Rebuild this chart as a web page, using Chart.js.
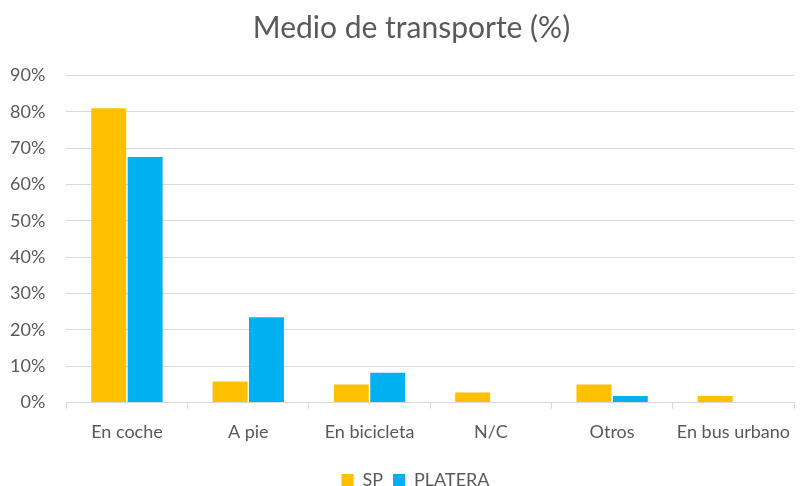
<!DOCTYPE html>
<html><head><meta charset="utf-8">
<script src="https://cdn.jsdelivr.net/npm/chart.js@4/dist/chart.umd.min.js"></script>
<style>html,body{margin:0;padding:0;background:#fff}#wrap{width:803px;height:486px}</style>
</head><body><div id="wrap"><canvas id="c" width="803" height="486"></canvas></div>
<script>
const categories = ["En coche", "A pie", "En bicicleta", "N/C", "Otros", "En bus urbano"];
const spValues = [81, 5.8, 5, 2.8, 5, 1.8];
const plateraValues = [67.6, 23.5, 8.2, 0, 1.8, 0];
const seriesNames = ["SP", "PLATERA"];
const yTicks = [0, 10, 20, 30, 40, 50, 60, 70, 80, 90];

const FONT = "Lato";
// small offsets so title and legend sit slightly right of canvas centre, as in the source
const shiftBlocks = {
  id: 'shiftBlocks',
  afterLayout(chart) {
    if (chart.titleBlock) { chart.titleBlock.left += 11; chart.titleBlock.right += 11; }
    if (chart.legend) { chart.legend.left += 15; chart.legend.right += 15; }
  }
};
new Chart(document.getElementById('c'), {
  type: 'bar',
  data: {
    labels: categories,
    datasets: [
      {label: seriesNames[0], data: spValues, backgroundColor: '#FFC000', borderWidth: 0},
      {label: seriesNames[1], data: plateraValues, backgroundColor: '#00B0F0', borderWidth: 0}
    ]
  },
  plugins: [shiftBlocks],
  options: {
    responsive: false,
    animation: false,
    devicePixelRatio: 1,
    layout: {padding: {left: -11, right: -9, top: 0, bottom: -13}},
    datasets: {bar: {categoryPercentage: 0.6, barPercentage: 0.96}},
    plugins: {
      title: {display: true, text: 'Medio de transporte (%)', color: '#595959',
        font: {family: FONT, size: 30, weight: 'normal'}, padding: {top: 10, bottom: 29.5}},
      legend: {position: 'bottom', labels: {boxWidth: 12, boxHeight: 12, color: '#595959',
        font: {family: FONT, size: 18, lineHeight: 1}, padding: 10}},
      tooltip: {enabled: false}
    },
    scales: {
      x: {
        afterFit: (scale) => { scale.height += 4.8; },
        grid: {display: true, drawOnChartArea: false, drawTicks: true, tickLength: 6, color: '#d9d9d9', offset: true},
        border: {display: true, color: '#d9d9d9', width: 1},
        ticks: {color: '#595959', font: {family: FONT, size: 18}, padding: 13, maxRotation: 0}
      },
      y: {
        min: 0, max: 90,
        afterBuildTicks: (axis) => { axis.ticks = yTicks.map(v => ({value: v})); },
        grid: {color: '#d9d9d9', drawTicks: false},
        border: {display: false},
        ticks: {color: '#595959', font: {family: FONT, size: 18}, padding: 21, callback: v => v + '%'}
      }
    }
  }
});
</script></body></html>
